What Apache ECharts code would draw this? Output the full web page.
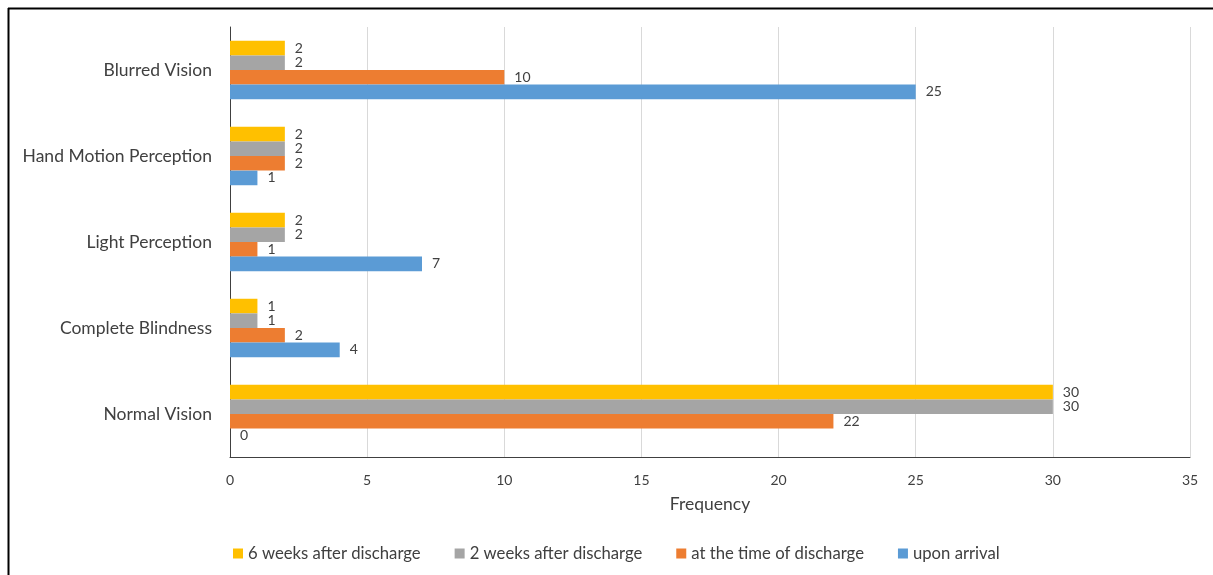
<!DOCTYPE html>
<html>
<head>
<meta charset="utf-8">
<script src="https://cdn.jsdelivr.net/npm/echarts@6/dist/echarts.min.js"></script>
<style>
  html, body { margin: 0; padding: 0; background: #fff; }
  #chart { width: 1213px; height: 575px; }
</style>
</head>
<body>
<div id="chart"></div>
<script>
// categories, bottom to top
const categories = ['Normal Vision', 'Complete Blindness', 'Light Perception', 'Hand Motion Perception', 'Blurred Vision'];

const uponArrival = [0, 4, 7, 1, 25];
const atDischarge = [22, 2, 1, 2, 10];
const twoWeeks = [30, 1, 2, 2, 2];
const sixWeeks = [30, 1, 2, 2, 2];

const xTicks = [0, 5, 10, 15, 20, 25, 30, 35];

const chart = echarts.init(document.getElementById('chart'));

const font = 'Lato, "Open Sans", sans-serif';
const txt = '#404040';

function barSeries(name, data, color) {
    return {
        name: name,
        type: 'bar',
        data: data,
        barGap: '0%',
        barCategoryGap: '32%',
        itemStyle: { color: color },
        label: {
            show: true,
            position: 'right',
            distance: 10,
            color: txt,
            fontFamily: font,
            fontSize: 14
        }
    };
}

const option = {
    animation: false,
    backgroundColor: '#fff',
    grid: { left: 230, right: 23, top: 27, bottom: 118 },
    legend: {
        data: ['6 weeks after discharge', '2 weeks after discharge', 'at the time of discharge', 'upon arrival'],
        left: 228,
        top: 540,
        itemWidth: 10,
        itemHeight: 10,
        itemGap: 34,
        icon: 'rect',
        textStyle: { color: txt, fontFamily: font, fontSize: 16.7 }
    },
    xAxis: {
        type: 'value',
        min: xTicks[0],
        max: xTicks[xTicks.length - 1],
        interval: 5,
        name: 'Frequency',
        nameLocation: 'middle',
        nameGap: 38,
        nameTextStyle: { color: txt, fontFamily: font, fontSize: 17.5 },
        axisLine: { show: true, lineStyle: { color: '#404040', width: 1 } },
        axisTick: { show: false },
        axisLabel: { color: txt, fontFamily: font, fontSize: 14, margin: 16 },
        splitLine: { show: true, lineStyle: { color: '#d9d9d9', width: 1 } }
    },
    yAxis: {
        type: 'category',
        data: categories,
        axisLine: { show: true, lineStyle: { color: '#404040', width: 1 } },
        axisTick: { show: false },
        axisLabel: { color: txt, fontFamily: font, fontSize: 17.5, margin: 18 }
    },
    // first series sits on top of each group
    series: [
        barSeries('6 weeks after discharge', sixWeeks, '#FFC000'),
        barSeries('2 weeks after discharge', twoWeeks, '#A5A5A5'),
        barSeries('at the time of discharge', atDischarge, '#ED7D31'),
        barSeries('upon arrival', uponArrival, '#5B9BD5')
    ],
    graphic: [
        // frame around the figure (top and left edges visible)
        { type: 'line', shape: { x1: 8, y1: 8.5, x2: 1213, y2: 8.5 }, style: { stroke: '#000', lineWidth: 2 } },
        { type: 'line', shape: { x1: 8.5, y1: 8, x2: 8.5, y2: 575 }, style: { stroke: '#000', lineWidth: 2 } }
    ]
};

option && chart.setOption(option);
</script>
</body>
</html>
